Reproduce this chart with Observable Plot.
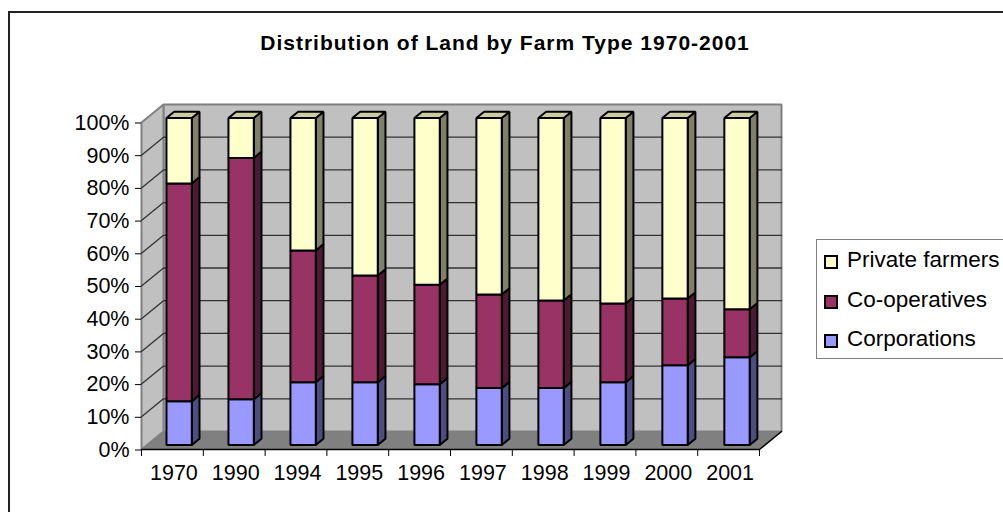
<!DOCTYPE html>
<html><head><meta charset="utf-8">
<script src="https://cdn.jsdelivr.net/npm/d3@7"></script>
<script src="https://cdn.jsdelivr.net/npm/@observablehq/plot@0.6"></script>
<style>
html,body{margin:0;padding:0;background:#fff;overflow:hidden}
#wrap{position:relative;width:1003px;height:512px;font-family:"Liberation Sans",Arial,sans-serif;overflow:hidden}
#frame{position:absolute;left:8px;top:11px;width:1100px;height:600px;border:2px solid #222;border-right:none;border-bottom:none}
#title{position:absolute;left:9px;width:992px;top:31px;text-align:center;font-weight:bold;font-size:21px;letter-spacing:1px;color:#000}
#legend{position:absolute;left:816px;top:239px;width:300px;height:118px;border:1px solid #808080;background:#fff}
.li{position:absolute;left:7px;font-size:22.5px;line-height:24px;white-space:nowrap;color:#000}
.sw{display:inline-block;position:absolute;left:0;top:7px;width:10px;height:10px;border:2px solid #000}
.li span.t{margin-left:23px}
svg{position:absolute;left:0;top:0}
</style></head><body>
<div id="wrap">
<div id="frame"></div>
<div id="chart"></div>
<div id="title">Distribution of Land by Farm Type 1970-2001</div>
<div id="legend"></div>
</div>
<script>
const years = ["1970","1990","1994","1995","1996","1997","1998","1999","2000","2001"];
const corporations = [13.4,14,19.2,19.2,18.6,17.4,17.4,19.2,24.4,26.8];
const cooperatives = [66.6,73.8,40.3,32.6,30.4,28.6,26.8,24.1,20.4,14.7];
const privateFarmers = [20,12.2,40.5,48.2,51,54,55.8,56.7,55.2,58.5];
const yTicks = [0,10,20,30,40,50,60,70,80,90,100];
const series = [
  {name:"Corporations", values:corporations, front:"#9999ff", side:"#4d4d80", top:"#7a7acc"},
  {name:"Co-operatives", values:cooperatives, front:"#993366", side:"#4d1a33", top:"#7a2952"},
  {name:"Private farmers", values:privateFarmers, front:"#ffffcc", side:"#808066", top:"#ccccA3"}
];
// oblique projection: depth 1 = full chart depth, expressed in data units
const DX = 0.356, DY = 5.5;
const P = (i, v, d=0) => ({x: i + d*DX, y: v + d*DY});
const face = (pts, fill, stroke, sw) => Plot.line(pts, {x:"x", y:"y", fill, stroke, strokeWidth:sw, curve:"linear-closed", strokeLinejoin:"miter"});

const marks = [];
// walls & floor
marks.push(face([P(0,0,1),P(10,0,1),P(10,100,1),P(0,100,1)], "#c0c0c0", "#808080", 2));
marks.push(face([P(0,0,0),P(0,0,1),P(0,100,1),P(0,100,0)], "#c0c0c0", "#808080", 2));
marks.push(face([P(0,0,0),P(10,0,0),P(10,0,1),P(0,0,1)], "#808080", "none", 0));
// gridlines
for (const v of yTicks.slice(1,-1)) {
  marks.push(Plot.line([P(0,v,0),P(0,v,1),P(10,v,1)], {x:"x", y:"y", stroke:"#333", strokeWidth:1.3}));
}
marks.push(Plot.line([P(0,0,0),P(10,0,0),P(10,0,1)], {x:"x", y:"y", stroke:"#000", strokeWidth:1.5}));
// bars
const d0 = 0.25, d1 = 0.6, hw = 0.205, off = 0.02;
years.forEach((yr, k) => {
  let base = 0;
  const l = k*1.003 + 0.5 - hw + off, r = k*1.003 + 0.5 + hw + off;
  series.forEach((s, si) => {
    const t = base + s.values[k];
    marks.push(face([P(r,base,d0),P(r,base,d1),P(r,t,d1),P(r,t,d0)], s.side, "#000", 2));
    if (si === series.length-1)
      marks.push(face([P(l,t,d0),P(r,t,d0),P(r,t,d1),P(l,t,d1)], s.top, "#000", 2));
    marks.push(face([P(l,base,d0),P(r,base,d0),P(r,t,d0),P(l,t,d0)], s.front, "#000", 2));
    base = t;
  });
});
const chart = Plot.plot({
  width:1003, height:512,
  marginLeft:141, marginRight:244, marginTop:122, marginBottom:63,
  style:{background:"transparent", fontFamily:'"Liberation Sans",Arial,sans-serif', fontSize:"21px", color:"#000"},
  x:{type:"linear", domain:[0,10], axis:null},
  y:{type:"linear", domain:[0,100], axis:null},
  marks:[
    ...marks,
    Plot.axisY({ticks:yTicks, tickFormat:d=>d+"%", tickSize:6, tickPadding:6, label:null, fontSize:21.5, anchor:"left", stroke:"#000", strokeWidth:1, dy:0.5}),
    Plot.axisX(d3.range(0,11), {tickSize:7, tickFormat:()=>"", label:null, stroke:"#000", strokeWidth:1}),
    Plot.axisX(d3.range(10).map(i=>i+0.5), {tickSize:0, tickPadding:15, dx:1.5, tickFormat:i=>years[Math.floor(i)], label:null, fontSize:21.5})
  ]
});
document.getElementById("chart").appendChild(chart);
const lg = document.getElementById("legend");
[...series].reverse().forEach((s,i)=>{
  const d = document.createElement("div");
  d.className="li"; d.style.top=(8+i*39.5)+"px";
  d.innerHTML = `<span class="sw" style="background:${s.front}"></span><span class="t">${s.name}</span>`;
  lg.appendChild(d);
});
</script>
</body></html>
